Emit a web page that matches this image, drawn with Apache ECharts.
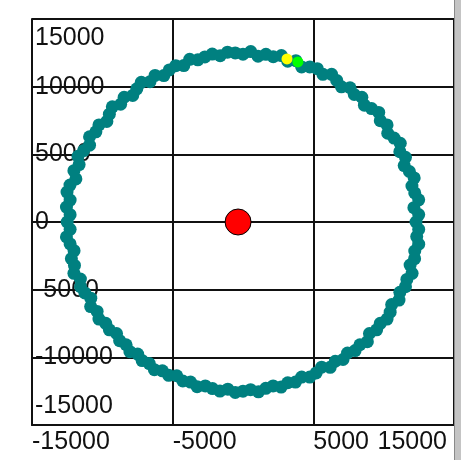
<!DOCTYPE html>
<html>
<head>
<meta charset="utf-8">
<script src="https://cdn.jsdelivr.net/npm/echarts@6/dist/echarts.min.js"></script>
<style>
html,body{margin:0;padding:0;background:#fff;}
#c{width:461px;height:460px;}
</style>
</head>
<body>
<div id="c"></div>
<script>
// ring of teal points
var ringX = [12300,12490,12150,12490,12210,12010,12170,11830,11460,11550,11150,11180,10740,10290,10240,9760,9650,9140,8630,8450,7910,7610,7000,6660,6300,5680,5280,4750,4170,3760,3180,2730,2150,1630,1070,550,
0,-550,-1100,-1620,-2190,-2710,-3210,-3790,-4210,-4780,-5240,-5630,-6250,-6610,-7230,-7550,-7840,-8450,-8700,-9290,-9500,-9680,-10240,-10460,-10910,-10910,-11330,-11730,-11650,-12020,-11880,-12300,-12510,-12290,-12550,-12290,
-12500,-12290,-12550,-12290,-12010,-12200,-11980,-12020,-11560,-11550,-11240,-10820,-10830,-10370,-10240,-9760,-9500,-8990,-8770,-8310,-8040,-7490,-7170,-6660,-6300,-5730,-5280,-4710,-4280,-3730,-3260,-2680,-2170,-1640,-1080,-550,
0,540,1100,1620,2140,2710,3180,3730,4170,4750,5200,5590,6200,6560,7110,7430,7970,8310,8840,8990,9500,9760,10240,10460,10570,11090,11150,11550,11650,12020,11880,12200,12210,12490,12350,12490];
var ringY = [0,550,1060,1640,2150,2660,3260,3730,4170,4780,5200,5820,6200,6560,7170,7490,8100,8380,8630,9220,9420,9920,9990,10460,10910,10910,11330,11460,11460,11920,11880,12300,12210,12390,12250,12590,
12400,12490,12550,12290,12410,12200,11980,12020,11560,11550,11240,10820,10830,10370,10320,9840,9350,9220,8700,8510,7970,7430,7170,6660,6300,5680,5280,4860,4240,3790,3180,2730,2210,1620,1100,540,
0,-540,-1100,-1620,-2120,-2710,-3210,-3790,-4210,-4780,-5240,-5630,-6250,-6610,-7170,-7490,-7970,-8240,-8770,-9070,-9580,-9760,-10240,-10460,-10910,-11000,-11330,-11360,-11750,-11830,-12170,-12110,-12310,-12490,-12350,-12590,
-12500,-12390,-12550,-12290,-12110,-12200,-11880,-11830,-11460,-11460,-11150,-10730,-10740,-10290,-10160,-9680,-9500,-9070,-8840,-8240,-7970,-7490,-7170,-6660,-6100,-5770,-5200,-4780,-4240,-3790,-3180,-2710,-2150,-1640,-1080,-550];
var yellowPoint = [3130, 12050];
var greenPoint = [3900, 11830];
var centerPoint = [-350, 0];
var xTicks = [-15000, -5000, 5000, 15000];
var yTicks = [-15000, -10000, -5000, 0, 5000, 10000, 15000];

var ringData = ringX.map(function (x, i) { return [x, ringY[i]]; });
var FONT = 'Liberation Sans';

var chart = echarts.init(document.getElementById('c'), null, {renderer: 'canvas'});
chart.setOption({
  animation: false,
  backgroundColor: '#ffffff',
  grid: {left: 32, right: 7, top: 19, bottom: 35, show: false, containLabel: false, outerBoundsMode: 'none'},
  xAxis: {
    type: 'value',
    min: xTicks[0], max: xTicks[xTicks.length - 1], interval: xTicks[1] - xTicks[0],
    axisLine: {show: true, onZero: false, lineStyle: {color: '#111', width: 2}},
    axisTick: {show: false},
    splitLine: {show: true, lineStyle: {color: '#111', width: 2}},
    axisLabel: {
      show: true, showMinLabel: true, showMaxLabel: true, hideOverlap: false,
      color: '#111', fontFamily: FONT, fontSize: 25, lineHeight: 25, margin: 5,
      align: 'left', alignMaxLabel: 'right',
      formatter: function (v) { return v === xTicks[xTicks.length - 1] ? '{m|' + v + '}' : String(v); },
      rich: {m: {color: '#111', fontFamily: FONT, fontSize: 25, lineHeight: 25, padding: [0, 7, 0, 0]}}
    }
  },
  yAxis: {
    type: 'value',
    min: yTicks[0], max: yTicks[yTicks.length - 1], interval: yTicks[1] - yTicks[0],
    axisLine: {show: true, onZero: false, lineStyle: {color: '#111', width: 2}},
    axisTick: {show: false},
    splitLine: {show: true, lineStyle: {color: '#111', width: 2}},
    axisLabel: {
      show: true, inside: true, showMinLabel: true, showMaxLabel: true, hideOverlap: false,
      color: '#111', fontFamily: FONT, fontSize: 25, lineHeight: 38, margin: 3,
      verticalAlignMaxLabel: 'top', verticalAlignMinLabel: 'bottom',
      formatter: function (v) { return String(v); }
    }
  },
  graphic: [
    {type: 'rect', left: 455, top: 0, shape: {width: 6, height: 460}, style: {fill: '#c4c4c4'}, z: 100},
    {type: 'rect', left: 454, top: 0, shape: {width: 1, height: 460}, style: {fill: '#8a8a8a'}, z: 100}
  ],
  series: [
    {type: 'scatter', data: ringData, symbol: 'circle', symbolSize: 13, itemStyle: {color: '#008080', opacity: 1}, z: 3},
    {type: 'scatter', data: [yellowPoint], symbol: 'circle', symbolSize: 11, itemStyle: {color: '#ffff00', opacity: 1}, z: 4},
    {type: 'scatter', data: [greenPoint], symbol: 'circle', symbolSize: 11, itemStyle: {color: '#00ff00', opacity: 1}, z: 4},
    {type: 'scatter', data: [centerPoint], symbol: 'circle', symbolSize: 26, itemStyle: {color: '#ff0000', borderColor: '#000', borderWidth: 1, opacity: 1}, z: 5}
  ]
});
</script>
</body>
</html>
